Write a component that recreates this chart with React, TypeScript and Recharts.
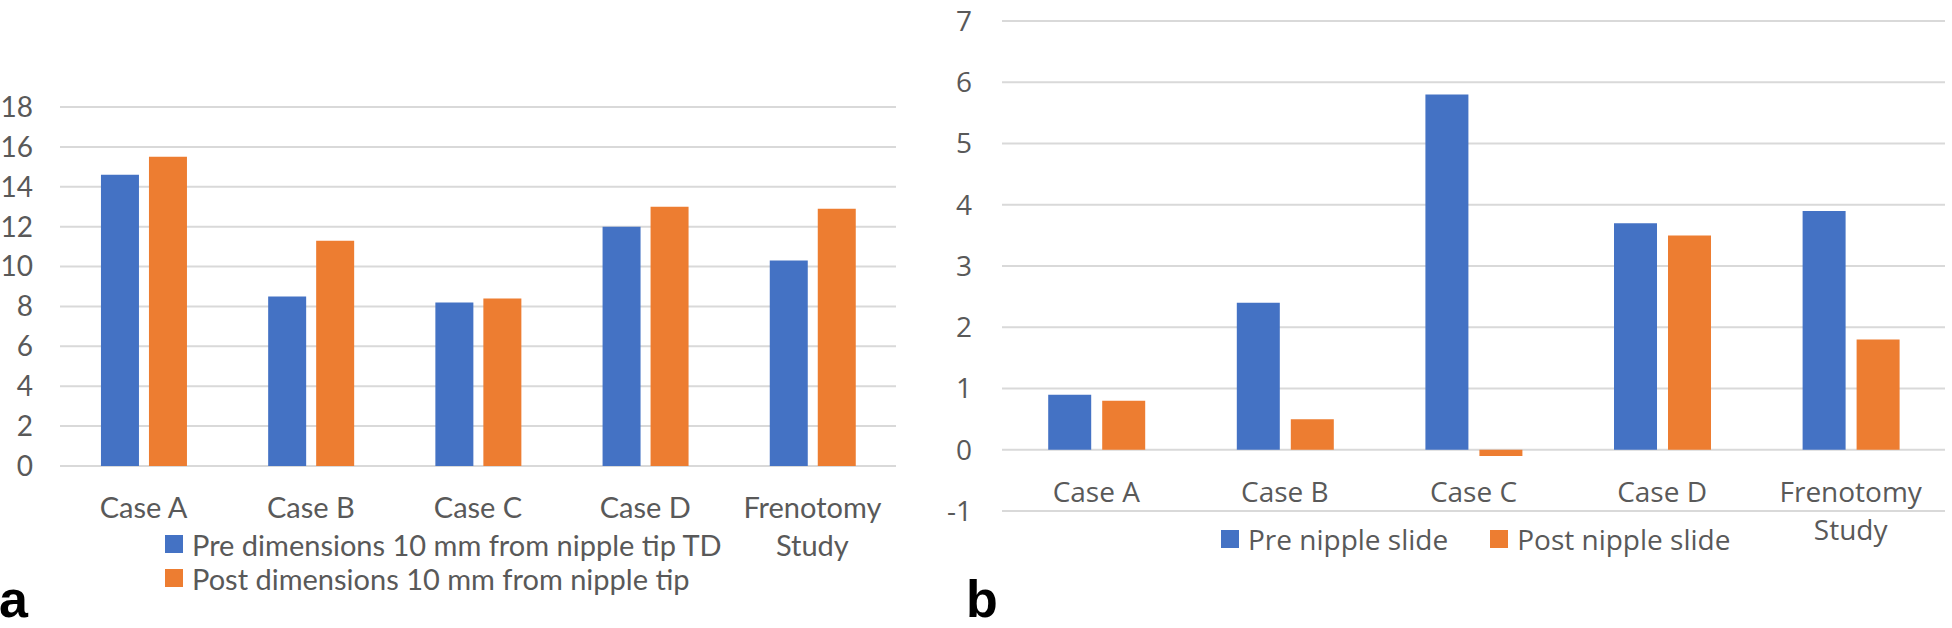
import React from 'react';
import { BarChart, Bar, XAxis, YAxis, CartesianGrid, Legend } from 'recharts';

const categories = ['Case A', 'Case B', 'Case C', 'Case D', 'Frenotomy Study'];

const preDimensions = [14.6, 8.5, 8.2, 12.0, 10.3];
const postDimensions = [15.5, 11.3, 8.4, 13.0, 12.9];

const preSlide = [0.9, 2.4, 5.8, 3.7, 3.9];
const postSlide = [0.8, 0.5, -0.1, 3.5, 1.8];

const ticksA = [0, 2, 4, 6, 8, 10, 12, 14, 16, 18];
const ticksB = [-1, 0, 1, 2, 3, 4, 5, 6, 7];

const seriesOrder = ['pre', 'post'];

const BLUE = '#4472C4';
const ORANGE = '#ED7D31';
const TEXT = '#595959';
const GRID = '#d9d9d9';

const dataA = categories.map((name, i) => ({ name, pre: preDimensions[i], post: postDimensions[i] }));
const dataB = categories.map((name, i) => ({ name, pre: preSlide[i], post: postSlide[i] }));

// long labels wrap onto two lines, like Excel does
function splitLabel(value: string): string[] {
  if (value.length <= 10) return [value];
  const cut = value.lastIndexOf(' ');
  return [value.slice(0, cut), value.slice(cut + 1)];
}

function makeTick(font: string, size: number, baseline: number, lineGap: number) {
  return (props: any) => {
    const { x, y, payload } = props;
    return (
      <g>
        {splitLabel(String(payload.value)).map((line, i) => (
          <text
            key={i}
            x={x}
            y={y + baseline + i * lineGap}
            textAnchor="middle"
            fill={TEXT}
            fontSize={size}
            fontFamily={font}
          >
            {line}
          </text>
        ))}
      </g>
    );
  };
}

function makeLegend(font: string, size: number, vertical: boolean) {
  return (props: any) => {
    // recharts sorts legend items by name; keep the series order instead
    const items = [...(props.payload || [])].sort(
      (a: any, b: any) => seriesOrder.indexOf(a.dataKey) - seriesOrder.indexOf(b.dataKey)
    );
    return (
      <div
        style={{
          display: 'flex',
          flexDirection: vertical ? 'column' : 'row',
          fontFamily: font,
          fontSize: size,
          color: TEXT,
        }}
      >
        {items.map((entry: any) => (
          <div
            key={entry.value}
            style={{ display: 'flex', alignItems: 'center', height: 34, marginRight: vertical ? 0 : 42 }}
          >
            <span style={{ width: 18, height: 18, background: entry.color, marginRight: 9, display: 'inline-block' }} />
            <span style={{ whiteSpace: 'nowrap' }}>{entry.value}</span>
          </div>
        ))}
      </div>
    );
  };
}

const FONT_A = 'Lato, sans-serif';
const FONT_B = "'Open Sans', sans-serif";

export default function App() {
  return (
    <div style={{ position: 'absolute', left: 0, top: 0, width: 1952, height: 628, background: '#fff', overflow: 'hidden' }}>
      <div style={{ position: 'absolute', left: 0, top: 0 }}>
        <BarChart
          width={960}
          height={628}
          data={dataA}
          margin={{ top: 107, right: 64, left: 0, bottom: 102 }}
          barCategoryGap="24.5%"
          barGap={10}
        >
          <CartesianGrid vertical={false} stroke={GRID} strokeWidth={2} />
          <XAxis
            dataKey="name"
            height={60}
            axisLine={false}
            tickLine={false}
            tickSize={0}
            tickMargin={0}
            interval={0}
            tick={makeTick(FONT_A, 29, 52, 38)}
          />
          <YAxis
            width={60}
            domain={[0, 18]}
            ticks={ticksA}
            interval={0}
            axisLine={false}
            tickLine={false}
            tickSize={0}
            tickMargin={27}
            tick={{ fill: TEXT, fontSize: 28, fontFamily: FONT_A }}
          />
          <Legend
            layout="vertical"
            align="center"
            verticalAlign="middle"
            wrapperStyle={{ left: 165, top: 527, width: 700, height: 'auto' }}
            content={makeLegend(FONT_A, 29, true)}
          />
          <Bar dataKey="pre" name="Pre dimensions 10 mm from nipple tip TD" fill={BLUE} isAnimationActive={false} />
          <Bar dataKey="post" name="Post dimensions 10 mm from nipple tip" fill={ORANGE} isAnimationActive={false} />
        </BarChart>
      </div>

      <div style={{ position: 'absolute', left: 920, top: 0 }}>
        <BarChart
          width={1032}
          height={628}
          data={dataB}
          margin={{ top: 21, right: 7, left: 0, bottom: 57 }}
          barCategoryGap="24.5%"
          barGap={11}
        >
          <CartesianGrid vertical={false} stroke={GRID} strokeWidth={2} />
          <XAxis
            dataKey="name"
            height={60}
            axisLine={false}
            tickLine={false}
            tickSize={0}
            tickMargin={0}
            interval={0}
            tick={makeTick(FONT_B, 28, -9, 38)}
          />
          <YAxis
            width={82}
            domain={[-1, 7]}
            ticks={ticksB}
            interval={0}
            axisLine={false}
            tickLine={false}
            tickSize={0}
            tickMargin={30}
            tick={{ fill: TEXT, fontSize: 28, fontFamily: FONT_B }}
          />
          <Legend
            layout="horizontal"
            align="center"
            verticalAlign="middle"
            wrapperStyle={{ left: 301, top: 522, width: 600, height: 'auto' }}
            content={makeLegend(FONT_B, 28, false)}
          />
          <Bar dataKey="pre" name="Pre nipple slide" fill={BLUE} isAnimationActive={false} />
          <Bar dataKey="post" name="Post nipple slide" fill={ORANGE} isAnimationActive={false} />
        </BarChart>
      </div>

      <svg width={1952} height={628} style={{ position: 'absolute', left: 0, top: 0, pointerEvents: 'none' }}>
        <text x={-1} y={617} fontSize={52} fontWeight="bold" fontFamily="'Liberation Sans', Arial, sans-serif" fill="#000">
          a
        </text>
        <text x={966} y={617} fontSize={52} fontWeight="bold" fontFamily="'Liberation Sans', Arial, sans-serif" fill="#000">
          b
        </text>
      </svg>
    </div>
  );
}
